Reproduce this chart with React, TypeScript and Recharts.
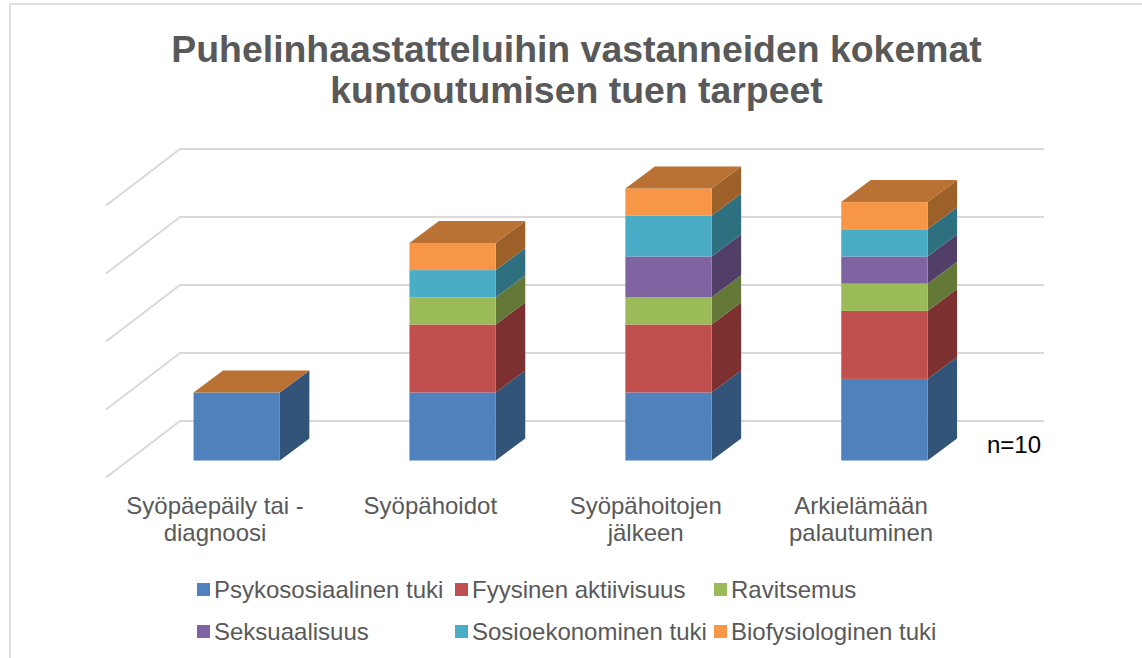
import { Bar, BarChart, CartesianGrid, Legend, XAxis, YAxis } from 'recharts';

const categories = [
  'Syöpäepäily tai -\ndiagnoosi',
  'Syöpähoidot',
  'Syöpähoitojen\njälkeen',
  'Arkielämään\npalautuminen',
];

const psykososiaalinen = [5, 5, 5, 6];
const fyysinen = [0, 5, 5, 5];
const ravitsemus = [0, 2, 2, 2];
const seksuaalisuus = [0, 0, 3, 2];
const sosioekonominen = [0, 2, 3, 2];
const biofysiologinen = [0, 2, 2, 2];
const yTicks = [0, 5, 10, 15, 20];

const data = categories.map((name, i) => ({
  name,
  psykososiaalinen: psykososiaalinen[i],
  fyysinen: fyysinen[i],
  ravitsemus: ravitsemus[i],
  seksuaalisuus: seksuaalisuus[i],
  sosioekonominen: sosioekonominen[i],
  biofysiologinen: biofysiologinen[i],
}));

const series = [
  { key: 'psykososiaalinen', name: 'Psykososiaalinen tuki', fill: '#4F81BD', side: '#325479' },
  { key: 'fyysinen', name: 'Fyysinen aktiivisuus', fill: '#C0504D', side: '#7C3130' },
  { key: 'ravitsemus', name: 'Ravitsemus', fill: '#9BBB59', side: '#647937' },
  { key: 'seksuaalisuus', name: 'Seksuaalisuus', fill: '#8064A2', side: '#523F68' },
  { key: 'sosioekonominen', name: 'Sosioekonominen tuki', fill: '#4BACC6', side: '#2E6F80' },
  { key: 'biofysiologinen', name: 'Biofysiologinen tuki', fill: '#F79646', side: '#9E6029' },
];

const FONT = '"Liberation Sans", Arial, sans-serif';
const TEXT = '#595959';
const GRID = '#D9D9D9';
// 3d depth of a bar
const DX = 29.5;
const DY = 22;

function Box3D(props: any) {
  const { x, y, width, height, fill, side, isLast } = props;
  const r = x + width;
  return (
    <g>
      {height > 0 && (
        <>
          <path d={`M${r} ${y}L${r + DX} ${y - DY}V${y + height - DY}L${r} ${y + height}Z`} fill={side} />
          <rect x={x} y={y} width={width} height={height} fill={fill} />
        </>
      )}
      {isLast && <path d={`M${x} ${y}L${x + DX} ${y - DY}H${r + DX}L${r} ${y}Z`} fill="#BA7234" />}
    </g>
  );
}

// one gridline: floor edge going back, then along the back wall
function GridLine(props: any) {
  const { y1, key } = props;
  return (
    <path
      key={key ?? y1}
      d={`M106 ${y1 + 17}L180 ${y1 - 39.5}H1044`}
      fill="none"
      stroke={GRID}
      strokeWidth={2}
    />
  );
}

function CategoryTick(props: any) {
  const { x, index, payload } = props;
  const lines = String(payload.value).split('\n');
  // labels sit left of the bars, and drift a little further left each step
  const cx = x - 21.5 - index * 0.55;
  return (
    <text x={cx} textAnchor="middle" fontFamily={FONT} fontSize={24} fill={TEXT}>
      {lines.map((line: string, i: number) => (
        <tspan key={line} x={cx} y={514 + i * 27}>
          {line}
        </tspan>
      ))}
    </text>
  );
}

const legendX = [197, 455, 714];
const legendY = [583, 625];

function LegendContent({ payload }: any) {
  return (
    <>
      {(payload ?? []).map((item: any, i: number) => {
        const left = legendX[i % 3];
        const top = legendY[Math.floor(i / 3)];
        return (
          <div key={item.value}>
            <div style={{ position: 'absolute', left, top, width: 13, height: 13, background: item.color }} />
            <div
              style={{
                position: 'absolute',
                left: left + 17,
                top: top - 7,
                fontFamily: FONT,
                fontSize: 24,
                lineHeight: '27px',
                color: TEXT,
                whiteSpace: 'nowrap',
              }}
            >
              {item.value}
            </div>
          </div>
        );
      })}
    </>
  );
}

export default function App() {
  return (
    <div style={{ position: 'absolute', left: 0, top: 0, width: 1142, height: 658, background: '#fff', overflow: 'hidden' }}>
      <BarChart
        width={1142}
        height={658}
        data={data}
        margin={{ left: 128.55, right: 149.85, top: 188.5, bottom: 0 }}
      >
        <path d="M10 658V4H1142" fill="none" stroke="#DEDEDE" strokeWidth={2} />
        <text x={576.5} y={62} textAnchor="middle" fontFamily={FONT} fontSize={37.4} fontWeight="bold" fill={TEXT}>
          Puhelinhaastatteluihin vastanneiden kokemat
        </text>
        <text x={576.5} y={103} textAnchor="middle" fontFamily={FONT} fontSize={37.4} fontWeight="bold" fill={TEXT}>
          kuntoutumisen tuen tarpeet
        </text>
        <CartesianGrid vertical={false} horizontal={GridLine as any} />
        <XAxis dataKey="name" height={197.5} axisLine={false} tickLine={false} tick={CategoryTick as any} interval={0} />
        <YAxis hide domain={[0, 20]} ticks={yTicks} />
        <Legend
          content={LegendContent as any}
          itemSorter={null}
          wrapperStyle={{ position: 'absolute', left: 0, top: 0, width: 0, height: 0 }}
        />
        {series.map((s, i) => (
          <Bar
            key={s.key}
            dataKey={s.key}
            name={s.name}
            stackId="a"
            fill={s.fill}
            barSize={86.3}
            isAnimationActive={false}
            shape={((p: any) => <Box3D {...p} side={s.side} isLast={i === series.length - 1} />) as any}
          />
        ))}
        <text x={987} y={453} fontFamily={FONT} fontSize={24} fill="#000">
          n=10
        </text>
      </BarChart>
    </div>
  );
}
